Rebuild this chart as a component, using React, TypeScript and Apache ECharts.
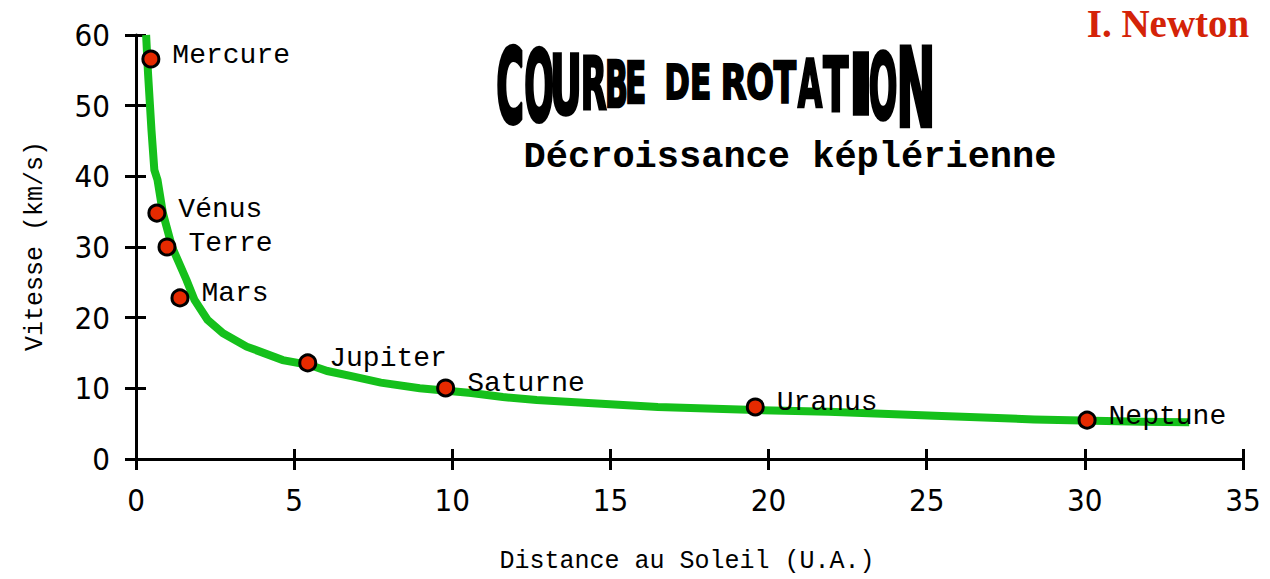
import React, { useEffect, useRef } from "react";
import * as echarts from "echarts";

// ---- data ----
const planetNames = ["Mercure", "Vénus", "Terre", "Mars", "Jupiter", "Saturne", "Uranus", "Neptune"];
const planetDistances = [0.47, 0.66, 0.98, 1.39, 5.43, 9.79, 19.58, 30.07];
const planetSpeeds = [56.6, 34.8, 30.0, 22.8, 13.6, 10.05, 7.36, 5.5];

const curveDistances = [0.32, 0.38, 0.49, 0.58, 0.68, 0.85, 1.14, 1.6, 1.85, 2.26, 2.75, 3.5, 4.64, 5.5, 6.05, 6.85, 7.74, 8.97, 10.6, 11.6, 12.67, 14.3, 16.5, 18.56, 19.6, 21.9, 25.26, 28.4, 31.8, 33.3];
const curveSpeeds = [60, 54.6, 46.5, 40.9, 39.5, 34.8, 30.0, 25.3, 22.5, 19.7, 17.8, 15.9, 14.0, 13.3, 12.45, 11.7, 10.8, 10.0, 9.34, 8.77, 8.35, 7.92, 7.36, 7.07, 6.93, 6.69, 6.13, 5.6, 5.28, 5.2];

const xRange = [0, 35];
const xStep = 5;
const yRange = [0, 60];
const yStep = 10;

const titleText = "COURBE DE ROTATION";
const subtitleText = "Décroissance képlérienne";
const authorText = "I. Newton";
const xAxisName = "Distance au Soleil (U.A.)";
const yAxisName = "Vitesse (km/s)";

// layout of the warped title letters (one per non-space char of titleText): [centerX, height, width]
const titleLayout: [number, number, number][] = [
  [510, 83, 26], [539, 78, 28], [566, 64, 27], [595, 55, 24],
  [617, 49, 20], [636, 43, 18], [678, 37, 23], [701, 37, 18],
  [735, 37, 24], [760, 38, 26], [785, 43, 24], [810, 50, 26],
  [836, 57, 27], [861, 63, 17], [883, 73, 27], [916, 83, 33],
];
const TITLE_CY = 77.5;

const MONO = '"Liberation Mono", "DejaVu Sans Mono", monospace';
const COND = '"DejaVu Sans Condensed", "DejaVu Sans", sans-serif';
const TITLE_FONT_SIZE = 50;

function measureInk(ch: string) {
  const c = document.createElement("canvas");
  const ctx = c.getContext("2d");
  if (!ctx) return null;
  ctx.font = `bold ${TITLE_FONT_SIZE}px "DejaVu Sans Condensed", "DejaVu Sans", sans-serif`;
  ctx.textBaseline = "middle";
  ctx.textAlign = "left";
  const m = ctx.measureText(ch);
  return {
    left: m.actualBoundingBoxLeft,
    right: m.actualBoundingBoxRight,
    ascent: m.actualBoundingBoxAscent,
    descent: m.actualBoundingBoxDescent,
  };
}

export default function App() {
  const ref = useRef<HTMLDivElement>(null);
  useEffect(() => {
    if (!ref.current) return;
    const chart = echarts.init(ref.current, undefined, { renderer: "svg" });

    const letters = titleText.replace(/ /g, "").split("");
    const titleEls = letters.map((ch, i) => {
      const [cx, h, w] = titleLayout[i];
      const m = measureInk(ch) || { left: 0, right: 30, ascent: 18, descent: 18 };
      const inkW = m.right + m.left + 2;
      const inkH = m.ascent + m.descent + 2;
      const offX = -(m.right - m.left) / 2;
      const offY = -(m.descent - m.ascent) / 2;
      return {
        type: "text",
        x: cx,
        y: TITLE_CY,
        scaleX: w / inkW,
        scaleY: h / inkH,
        style: {
          text: ch,
          x: offX,
          y: offY,
          fill: "#000",
          stroke: "#000",
          lineWidth: 2,
          fontSize: TITLE_FONT_SIZE,
          fontWeight: "bold",
          fontFamily: COND,
          align: "left",
          verticalAlign: "middle",
          textAlign: "left",
          textVerticalAlign: "middle",
        },
      };
    });

    const axisLine = { show: true, lineStyle: { color: "#000", width: 3 } };

    chart.setOption({
      animation: false,
      backgroundColor: "#fff",
      grid: { left: 136, top: 35, width: 1107, height: 424, containLabel: false },
      xAxis: [
        {
          type: "value",
          min: xRange[0],
          max: xRange[1],
          interval: xStep,
          position: "bottom",
          axisLine,
          axisTick: { show: true, inside: false, length: 11, lineStyle: { color: "#000", width: 3 } },
          axisLabel: { color: "#000", fontSize: 31, fontFamily: COND, margin: 25 },
          splitLine: { show: false },
        },
        {
          type: "value",
          min: xRange[0],
          max: xRange[1],
          interval: xStep,
          position: "bottom",
          axisLine: { show: false },
          axisTick: { show: true, inside: true, length: 10, lineStyle: { color: "#000", width: 3 } },
          axisLabel: { show: false },
          splitLine: { show: false },
        },
      ],
      yAxis: [
        {
          type: "value",
          min: yRange[0],
          max: yRange[1],
          interval: yStep,
          position: "left",
          axisLine,
          axisTick: { show: true, inside: false, length: 11, lineStyle: { color: "#000", width: 3 } },
          axisLabel: { color: "#000", fontSize: 31, fontFamily: COND, margin: 26 },
          splitLine: { show: false },
        },
        {
          type: "value",
          min: yRange[0],
          max: yRange[1],
          interval: yStep,
          position: "left",
          axisLine: { show: false },
          axisTick: { show: true, inside: true, length: 10, lineStyle: { color: "#000", width: 3 } },
          axisLabel: { show: false },
          splitLine: { show: false },
        },
      ],
      series: [
        {
          type: "line",
          data: curveDistances.map((d, i) => [d, curveSpeeds[i]]),
          showSymbol: false,
          symbol: "none",
          clip: false,
          lineStyle: { color: "#15c01b", width: 8, join: "miter" },
          z: 2,
        },
        {
          type: "scatter",
          data: planetDistances.map((d, i) => ({ value: [d, planetSpeeds[i]], name: planetNames[i] })),
          symbol: "circle",
          symbolSize: 16,
          clip: false,
          itemStyle: { color: "#e62a00", borderColor: "#000", borderWidth: 3, opacity: 1 },
          label: {
            show: true,
            position: "right",
            distance: 12,
            offset: [0, -4],
            formatter: (p: any) => p.name,
            color: "#000",
            fontSize: 28,
            fontFamily: MONO,
          },
          z: 3,
        },
      ],
      graphic: [
        ...titleEls,
        {
          type: "text",
          x: 790,
          y: 157,
          style: {
            text: subtitleText,
            x: 0,
            y: 0,
            fill: "#000",
            fontSize: 37,
            fontWeight: "bold",
            fontFamily: MONO,
            align: "center",
            verticalAlign: "middle",
            textAlign: "center",
            textVerticalAlign: "middle",
          },
        },
        {
          type: "text",
          x: 1168,
          y: 23,
          style: {
            text: authorText,
            x: 0,
            y: 0,
            fill: "#d42308",
            fontSize: 39,
            fontWeight: "bold",
            fontFamily: '"Liberation Serif", "Times New Roman", serif',
            align: "center",
            verticalAlign: "middle",
            textAlign: "center",
            textVerticalAlign: "middle",
          },
        },
        {
          type: "text",
          x: 687,
          y: 561,
          style: {
            text: xAxisName,
            x: 0,
            y: 0,
            fill: "#000",
            fontSize: 25,
            fontFamily: MONO,
            align: "center",
            verticalAlign: "middle",
            textAlign: "center",
            textVerticalAlign: "middle",
          },
        },
        {
          type: "text",
          x: 35,
          y: 246,
          rotation: Math.PI / 2,
          style: {
            text: yAxisName,
            x: 0,
            y: 0,
            fill: "#000",
            fontSize: 25,
            fontFamily: MONO,
            align: "center",
            verticalAlign: "middle",
            textAlign: "center",
            textVerticalAlign: "middle",
          },
        },
      ],
    });
    return () => chart.dispose();
  }, []);

  return (
    <div
      ref={ref}
      style={{ position: "absolute", left: 0, top: 0, width: 1270, height: 579, background: "#fff" }}
    />
  );
}
